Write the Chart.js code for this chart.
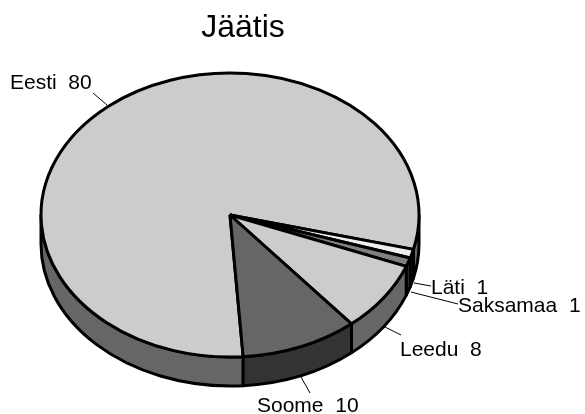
<!DOCTYPE html>
<html>
<head>
<meta charset="utf-8">
<style>html,body{margin:0;padding:0;background:#fff}canvas{display:block}</style>
<script src="https://cdn.jsdelivr.net/npm/chart.js@4"></script>
</head>
<body>
<canvas id="c" width="585" height="414"></canvas>
<script>
const titleText = "Jäätis";
const categories = ["Eesti", "Läti", "Saksamaa", "Leedu", "Soome"];
const values = [80, 1, 1, 8, 10];
const topColors = ["#cccccc", "#eeeeee", "#808080", "#cccccc", "#666666"];
const sideColors = ["#666666", "#777777", "#404040", "#666666", "#333333"];

// layout of the drawing (not data)
const FONT = '"Liberation Sans", Arial, sans-serif';
const RX = 189, RY = 142, DEPTH = 29, LW = 3;
const labelLayout = [
  {x: 10, y: 89, sp: 0, from: [93, 93], to: [107, 105]},
  {x: 431, y: 294, sp: 0, from: [431, 286], to: [414, 283]},
  {x: 458, y: 312, sp: 0, from: [458, 304], to: [411, 292]},
  {x: 400, y: 356, sp: 0, from: [401, 335], to: [385, 327]},
  {x: 257, y: 412, sp: 0, from: [310, 393], to: [301, 377]}
];

const piePlugin = {
  id: "pie3d",
  afterLayout(chart) {
    const t = chart.titleBlock;
    const shift = 243 - (t.left + t.right) / 2;
    t.left += shift; t.right += shift;
  },
  beforeDatasetsDraw(chart) {
    const ctx = chart.ctx;
    const arcs = chart.getDatasetMeta(0).data;
    const cx = arcs[0].x, cy = arcs[0].y;
    ctx.save();
    ctx.lineWidth = LW;
    ctx.strokeStyle = "#000";
    ctx.lineJoin = "round";
    arcs.forEach((arc, i) => {
      for (const k of [0, 1]) {
        const a0 = Math.max(arc.startAngle, k * 2 * Math.PI);
        const a1 = Math.min(arc.endAngle, k * 2 * Math.PI + Math.PI);
        if (a1 <= a0) continue;
        ctx.beginPath();
        ctx.ellipse(cx, cy, RX, RY, 0, a0, a1);
        ctx.ellipse(cx, cy + DEPTH, RX, RY, 0, a1, a0, true);
        ctx.closePath();
        ctx.fillStyle = sideColors[i];
        ctx.fill();
        ctx.stroke();
      }
    });
    ctx.restore();

    // the library's arcs are squashed into the ellipse; strokes stay even
    ctx.save();
    ctx.translate(cx, cy);
    ctx.scale(RX / arcs[0].outerRadius, RY / arcs[0].outerRadius);
    ctx.translate(-cx, -cy);
    ctx.stroke = function () {
      const m = ctx.getTransform();
      ctx.setTransform(1, 0, 0, 1, 0, 0);
      CanvasRenderingContext2D.prototype.stroke.call(ctx);
      ctx.setTransform(m);
    };
  },
  afterDatasetsDraw(chart) {
    const ctx = chart.ctx;
    delete ctx.stroke;
    ctx.restore();
    ctx.save();
    ctx.font = "21px " + FONT;
    ctx.textBaseline = "alphabetic";
    ctx.textAlign = "left";
    ctx.fillStyle = "#000";
    ctx.strokeStyle = "#000";
    ctx.lineWidth = 1;
    categories.forEach((name, i) => {
      const p = labelLayout[i];
      ctx.beginPath();
      ctx.moveTo(p.from[0], p.from[1]);
      ctx.lineTo(p.to[0], p.to[1]);
      ctx.stroke();
      ctx.letterSpacing = p.sp + "px";
      ctx.fillText(name + "  " + values[i], p.x, p.y);
    });
    ctx.restore();
  }
};

new Chart(document.getElementById("c"), {
  type: "pie",
  data: {
    labels: categories,
    datasets: [{
      data: values,
      backgroundColor: topColors,
      borderColor: "#000000",
      borderWidth: LW,
      clip: false
    }]
  },
  options: {
    responsive: false,
    animation: false,
    rotation: 176,
    events: [],
    layout: {padding: {left: 87, right: 212, top: 0, bottom: 56}},
    plugins: {
      legend: {display: false},
      tooltip: {enabled: false},
      title: {
        display: true,
        text: titleText,
        color: "#000",
        font: {family: FONT, size: 32, weight: "normal", lineHeight: 1.2},
        padding: {top: 9, bottom: 24.6}
      }
    }
  },
  plugins: [piePlugin]
});
</script>
</body>
</html>
